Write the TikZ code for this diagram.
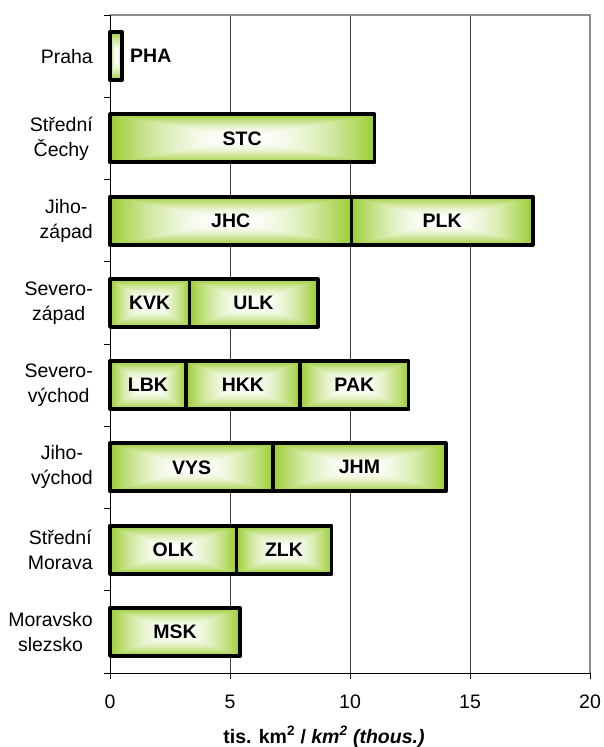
\documentclass[tikz,border=0pt]{standalone}
\usepackage{fontspec}
\setmainfont{Liberation Sans}
\definecolor{gridc}{HTML}{404040}
\definecolor{framec}{HTML}{8C8C8C}
\pgfdeclarefunctionalshading{barshade}{\pgfpoint{-50bp}{-50bp}}{\pgfpoint{50bp}{50bp}}{}{
 abs exch abs 2 copy lt {exch} if pop 25 div dup 1 gt {pop 1} if
 dup mul
 dup 0.40 mul 1 exch sub exch
 dup 0.20 mul 1 exch sub exch
 0.82 mul 1 exch sub
}
\tikzset{
  barseg/.style={shade, shading=barshade, draw=black, line width=3.8pt, line join=round},
  barlbl/.style={font=\fontsize{19.5}{22}\selectfont\bfseries, inner sep=0pt},
  catlbl/.style={font=\fontsize{19.5}{25}\selectfont, align=center, anchor=east, inner sep=0pt},
  ticklbl/.style={font=\fontsize{19.5}{22}\selectfont, inner sep=0pt},
  gridline/.style={draw=gridc, line width=1pt},
  axisline/.style={draw=black, line width=1pt}
}
\newcommand{\barseg}[5]{% name, band center y, x0 value, x1 value, label
  \draw[barseg] ({110+24*#3},{#2-24}) rectangle ({110+24*#4},{#2+24});
  \node[barlbl] (#1) at ({110+12*(#3+#4)},#2) {#5};
}
\begin{document}
\begin{tikzpicture}[x=1pt,y=-1pt]
\useasboundingbox (0,0) rectangle (603,747);
% grid
\foreach \v in {5,10,15} \draw[gridline] ({110+24*\v},15) -- ({110+24*\v},673);
% frame top/right
\draw[draw=framec, line width=1.6pt] (110,15) -- (590,15) -- (590,673);
% bars
\draw[barseg] (110,{15+82.25*0.5-24}) rectangle ({110+24*0.5},{15+82.25*0.5+24});
\node[barlbl, anchor=west] (pha) at (130,{15+82.25*0.5}) {PHA};
\barseg{stc}{15+82.25*1.5}{0}{11.02}{STC}
\barseg{jhc}{15+82.25*2.5}{0}{10.06}{JHC}
\barseg{plk}{15+82.25*2.5}{10.06}{17.62}{PLK}
\barseg{kvk}{15+82.25*3.5}{0}{3.31}{KVK}
\barseg{ulk}{15+82.25*3.5}{3.31}{8.65}{ULK}
\barseg{lbk}{15+82.25*4.5}{0}{3.16}{LBK}
\barseg{hkk}{15+82.25*4.5}{3.16}{7.92}{HKK}
\barseg{pak}{15+82.25*4.5}{7.92}{12.44}{PAK}
\barseg{vys}{15+82.25*5.5}{0}{6.80}{VYS}
\barseg{jhm}{15+82.25*5.5}{6.80}{13.99}{JHM}
\barseg{olk}{15+82.25*6.5}{0}{5.27}{OLK}
\barseg{zlk}{15+82.25*6.5}{5.27}{9.23}{ZLK}
\barseg{msk}{15+82.25*7.5}{0}{5.43}{MSK}
% axes
\draw[axisline] (110,15) -- (110,673) -- (590,673);
\foreach \k in {0,...,8} \draw[axisline] (104,{15+82.25*\k}) -- (110,{15+82.25*\k});
\foreach \v in {0,5,10,15,20} \draw[axisline] ({110+24*\v},673) -- ({110+24*\v},679);
% category labels
\node[catlbl] (c1) at (93,{15+82.25*0.5}) {Praha};
\node[catlbl] (c2) at (93,{15+82.25*1.5}) {Střední\\Čechy};
\node[catlbl] (c3) at (93,{15+82.25*2.5}) {Jiho-\\západ};
\node[catlbl] (c4) at (93,{15+82.25*3.5}) {Severo-\\západ};
\node[catlbl] (c5) at (93,{15+82.25*4.5}) {Severo-\\východ};
\node[catlbl] (c6) at (93,{15+82.25*5.5}) {Jiho-\\východ};
\node[catlbl] (c7) at (93,{15+82.25*6.5}) {Střední\\Morava};
\node[catlbl] (c8) at (93,{15+82.25*7.5}) {Moravsko\\slezsko};
% tick labels
\foreach \v/\n in {0/t0,5/t5,10/t10,15/t15,20/t20}
  \node[ticklbl] (\n) at ({110+24*\v},702) {\v};
\node[font=\fontsize{19.5}{22}\selectfont\bfseries, inner sep=0pt] (title) at (324,737)
  {tis. km\textsuperscript{2} / \textit{km\textsuperscript{2} (thous.)}};
\end{tikzpicture}
\end{document}
